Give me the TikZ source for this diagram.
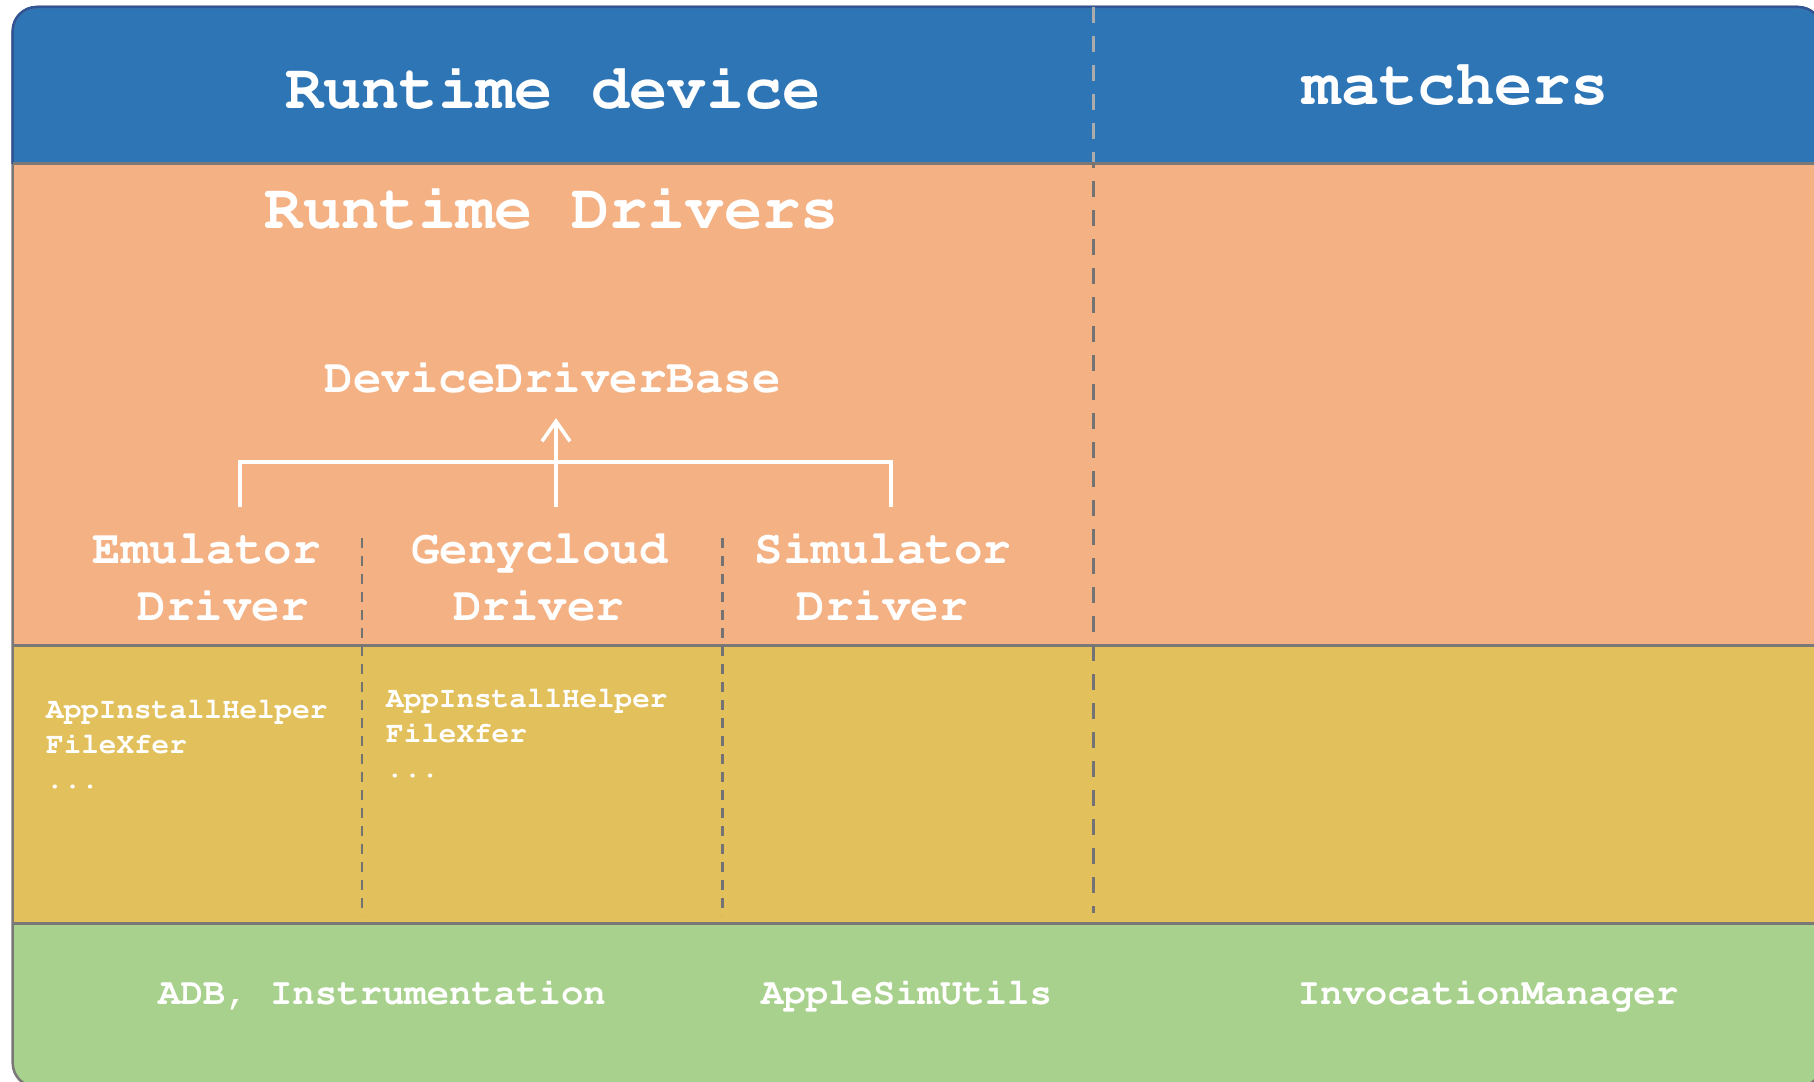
\documentclass[tikz,border=0pt]{standalone}
\usepackage[T1]{fontenc}
\usetikzlibrary{arrows.meta}

\definecolor{headblue}{HTML}{2E75B6}
\definecolor{headedge}{HTML}{2F5597}
\definecolor{drvorange}{HTML}{F4B183}
\definecolor{helpyellow}{HTML}{E2C15D}
\definecolor{toolgreen}{HTML}{A9D18E}
\definecolor{edgegray}{HTML}{7A7777}
\definecolor{dashgray}{HTML}{737373}
\definecolor{dashlight}{HTML}{ABABAB}

% bold Courier at a given size
\newcommand{\courbold}[1]{\fontencoding{T1}\fontfamily{pcr}\fontseries{b}\selectfont\fontsize{#1}{#1}\selectfont}

\tikzset{
  txt/.style={text=white, inner sep=0pt, anchor=base},
  title/.style={txt, font=\courbold{63.8}},
  drvlabel/.style={txt, font=\courbold{47.5}},
  helper/.style={txt, anchor=base west, font=\courbold{29.3}},
  tool/.style={txt, font=\courbold{37.3}},
  wire/.style={white, line width=3.6pt},
  seprule/.style={edgegray, line width=3pt},
  coldash/.style={dashgray, line width=2.2pt, dash pattern=on 10pt off 8pt},
  maindash/.style={line width=3pt, dash pattern=on 16pt off 13pt}
}

\begin{document}
\begin{tikzpicture}[x=1pt, y=-1pt]
\useasboundingbox (0,0) rectangle (1814,1081);

% layered bands inside the rounded frame
\begin{scope}
  \clip[rounded corners=24pt] (12.7,7) rectangle (1822,1087);
  \fill[headblue]   (0,0)   rectangle (1840,163);
  \fill[drvorange]  (0,163) rectangle (1840,645);
  \fill[helpyellow] (0,645) rectangle (1840,923);
  \fill[toolgreen]  (0,923) rectangle (1840,1100);
\end{scope}

% frame: grey body, dark blue around the header
\draw[edgegray, line width=2.5pt, rounded corners=24pt] (12.7,7) rectangle (1822,1087);
\begin{scope}
  \clip (0,0) rectangle (1840,163);
  \draw[headedge, line width=2.5pt, rounded corners=24pt] (12.7,7) rectangle (1822,1087);
\end{scope}

% band separators
\draw[seprule] (12.7,163) -- (1822,163);
\draw[seprule] (12.7,645) -- (1822,645);
\draw[seprule] (12.7,923) -- (1822,923);

% column divider between device and matchers
\draw[maindash, dashgray] (1093,7) -- (1093,913);
\begin{scope}
  \clip (0,0) rectangle (1840,161.5);
  \draw[maindash, dashlight] (1093,7) -- (1093,913);
\end{scope}

% driver column dividers
\draw[coldash] (361.7,538) -- (361.7,916);
\draw[coldash] (722.5,538) -- (722.5,916);

% headings
\node[title] (rtdev) at (553,108) {Runtime device};
\node[title] (match) at (1456,104) {matchers};
\node[title] (rtdrv) at (552,228) {Runtime Drivers};

% driver hierarchy
\node[drvlabel] (dbase) at (552.5,392) {DeviceDriverBase};
\node[drvlabel] (emu1) at (206.5,563) {Emulator};
\node[drvlabel] (emu2) at (223,620) {Driver};
\node[drvlabel] (geny1) at (539.5,563) {Genycloud};
\node[drvlabel] (geny2) at (538.5,620) {Driver};
\node[drvlabel] (sim1) at (883,563) {Simulator};
\node[drvlabel] (sim2) at (882,620) {Driver};

\coordinate (etop) at (240,507);
\coordinate (gtop) at (556,507);
\coordinate (stop) at (891,507);
\coordinate (barL) at (240,462);
\coordinate (barR) at (891,462);
\coordinate (tip) at (gtop |- dbase.south);

\draw[wire] (etop) -- (barL) -- (barR) -- (stop);
\draw[wire, shorten >=25pt, -{Straight Barb[length=20pt, width=28pt]}] (gtop) -- (tip);

% helper classes
\node[helper] (h1a) at (46,718) {AppInstallHelper};
\node[helper] (h1b) at (46,753) {FileXfer};
\node[helper] (h1c) at (46,788) {...};
\node[helper] (h2a) at (386,707) {AppInstallHelper};
\node[helper] (h2b) at (386,742) {FileXfer};
\node[helper] (h2c) at (386,777) {...};

% underlying tools
\node[tool] (adb) at (382,1004) {ADB, Instrumentation};
\node[tool] (asu) at (906.5,1004) {AppleSimUtils};
\node[tool] (inv) at (1488,1004) {InvocationManager};
\end{tikzpicture}
\end{document}
